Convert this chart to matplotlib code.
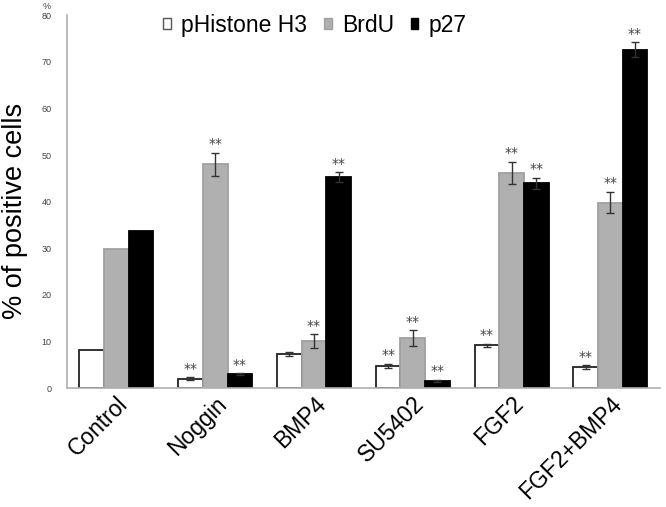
import numpy as np
import matplotlib.pyplot as plt
from matplotlib.patches import Patch

plt.rcParams['font.family'] = ['Liberation Sans', 'DejaVu Sans']

categories = ["Control", "Noggin", "BMP4", "SU5402", "FGF2", "FGF2+BMP4"]
series = ["pHistone H3", "BrdU", "p27"]
phh3 = [8.1, 2.0, 7.3, 4.8, 9.2, 4.5]
brdu = [29.8, 48.0, 10.0, 10.7, 46.2, 39.8]
p27 = [33.6, 3.0, 45.3, 1.5, 43.9, 72.6]
phh3_err = [0, 0.3, 0.5, 0.4, 0.3, 0.4]
brdu_err = [0, 2.5, 1.5, 1.7, 2.4, 2.3]
p27_err = [0, 0.2, 1.0, 0.3, 1.2, 1.6]
phh3_sig = [False, True, False, True, True, True]
brdu_sig = [False, True, True, True, True, True]
p27_sig = [False, True, True, True, True, True]

fig = plt.figure(figsize=(6.66, 5.07), dpi=100)
ax = fig.add_axes([0.1006, 0.2347, 0.890, 0.7353])

x = np.arange(len(categories))
w = 0.25
styles = [("white", "#222222"), ("#b0b0b0", "#a0a0a0"), ("black", "black")]
data = [(phh3, phh3_err, phh3_sig), (brdu, brdu_err, brdu_sig), (p27, p27_err, p27_sig)]

for i, ((vals, errs, sig), (fc, ec)) in enumerate(zip(data, styles)):
    pos = x + (i - 1) * w
    ax.bar(pos, vals, width=w, color=fc, edgecolor=ec, linewidth=1.3, zorder=2)
    for p, v, e, s in zip(pos, vals, errs, sig):
        if e > 0:
            ax.errorbar(p, v, yerr=e, fmt="none", ecolor="#333333",
                        elinewidth=1, capsize=3, capthick=1, zorder=3)
        if s:
            ax.text(p, v + e + 0.3, "**", ha="center", va="bottom",
                    fontsize=10, color="#444444", family="DejaVu Sans")

ax.set_xlim(-0.5, len(categories) - 0.5)
ax.set_ylim(0, 80)
ax.set_yticks(range(0, 81, 10))
ax.tick_params(axis="y", labelsize=6.5, colors="#444444", length=0, pad=11)
ax.set_xticks(x)
ax.set_xticklabels(categories, rotation=45, ha="right", rotation_mode="anchor",
                   fontsize=16.5)
ax.tick_params(axis="x", length=0, pad=3)
for s in ["top", "right"]:
    ax.spines[s].set_visible(False)
ax.spines["left"].set_color("#b0b0b0")
ax.spines["bottom"].set_color("#b0b0b0")
ax.spines["left"].set_linewidth(1.2)
ax.spines["bottom"].set_linewidth(1.2)
ax.spines["bottom"].set_bounds(-0.5, len(categories) - 0.5)
ax.set_ylabel("% of positive cells", fontsize=19.5)
ax.yaxis.set_label_coords(-0.066, 0.475)
ax.text(-0.034, 1.012, "%", transform=ax.transAxes, fontsize=6.5,
        color="#444444", ha="center", va="bottom")

handles = [Patch(facecolor=fc, edgecolor=ec if fc != "white" else "#555555")
           for fc, ec in styles]
fig.legend(handles, series, loc="upper left", bbox_to_anchor=(0.221, 1.004),
           ncol=3, frameon=False, fontsize=16.5, handlelength=0.34,
           handleheight=0.34, handletextpad=0.45, columnspacing=0.72,
           borderpad=0.2)

fig.savefig("out.png", dpi=100)
